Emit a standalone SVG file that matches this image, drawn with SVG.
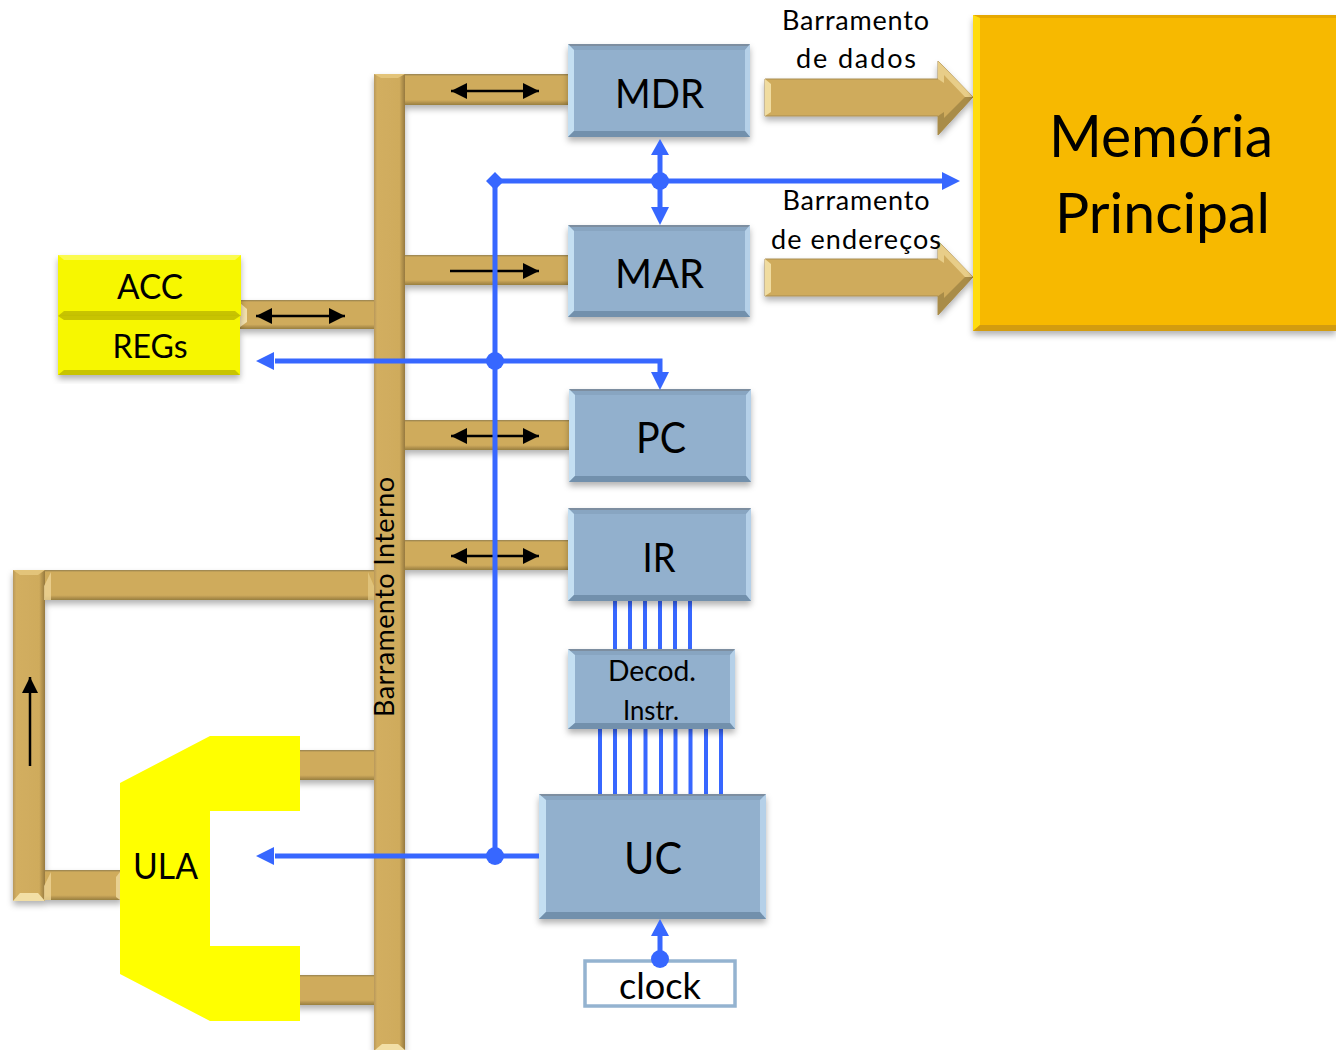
<svg xmlns="http://www.w3.org/2000/svg" width="1336" height="1050" viewBox="0 0 1336 1050">
<style>
text{font-family:"Lato","Open Sans","Liberation Sans",sans-serif;fill:#000;text-anchor:middle}
.hb{fill:url(#gh)}.vb{fill:url(#gv)}
.box{fill:#92b0cd}.bl{fill:#c4dff2}.bt{fill:#88a5c1}.br{fill:#b5d0e8}.bb{fill:#7290ac}.tl{fill:#7d8ea0}
.yb{fill:#f7f700}.yd{fill:#c8c400}.yl{fill:#fbfb50}
.blue{stroke:#3767ff;stroke-width:5;fill:none}
.wire{stroke:#3767ff;stroke-width:4;fill:none}
.dot{fill:#3767ff}
.blk{stroke:#000;stroke-width:2.5;fill:none}
.tip{fill:#000}
.sh{filter:url(#s)}
.lbl{font-size:27px}
</style>
<defs>
<linearGradient id="gh" x1="0" y1="0" x2="0" y2="1"><stop offset="0" stop-color="#94804f"/><stop offset=".07" stop-color="#cfab5c"/><stop offset=".84" stop-color="#cfab5c"/><stop offset=".93" stop-color="#b0904c"/><stop offset="1" stop-color="#98803f"/></linearGradient>
<linearGradient id="gv" x1="0" y1="0" x2="1" y2="0"><stop offset="0" stop-color="#b8985a"/><stop offset=".1" stop-color="#d2ae60"/><stop offset=".82" stop-color="#cfab5c"/><stop offset="1" stop-color="#96793f"/></linearGradient>
<filter id="s" x="-10%" y="-10%" width="120%" height="125%"><feDropShadow dx="0" dy="4" stdDeviation="3" flood-color="#000" flood-opacity=".3"/></filter>
<marker id="bk" viewBox="0 0 16 16" refX="16" refY="8" markerWidth="16" markerHeight="16" markerUnits="userSpaceOnUse" orient="auto-start-reverse"><path class="tip" d="M0 0L16 8L0 16Z"/></marker>
</defs>

<g id="connectors">
<g class="sh">
<rect id="bar-mdr" class="hb" x="400" y="74" width="168" height="31"/>
<rect id="bar-mar" class="hb" x="400" y="255" width="168" height="30"/>
<rect id="bar-acc" class="hb" x="240" y="300" width="136" height="29"/>
<rect id="bar-pc" class="hb" x="400" y="420" width="169" height="30"/>
<rect id="bar-ir" class="hb" x="400" y="540" width="168" height="30"/>
<rect id="bar-ula1" class="hb" x="295" y="750" width="82" height="30"/>
<rect id="bar-ula2" class="hb" x="295" y="975" width="82" height="30"/>
<rect id="bar-top" class="hb" x="42" y="570" width="334" height="30"/>
<rect id="bar-bot" class="hb" x="42" y="870" width="80" height="30"/>
<rect id="bar-left" class="vb" x="13" y="570" width="32" height="331"/>
<rect id="bar-main" class="vb" x="374" y="74" width="31" height="976"/>
</g>
<path d="M44 600V586L51 572V600ZM44 900V886L51 872V900Z" fill="#edd596" opacity=".8"/>
<path d="M374 600V586L368 572V600Z" fill="#e6cc88" opacity=".7"/>
<path d="M116 897V877L120 872V900Z" fill="#e8d090"/>
<path d="M240 303L247 309V322L240 327Z" fill="#f4e2ae"/>
<path d="M13 570H45L38 575H20Z" fill="#e3c47a"/>
<path d="M13 901H45L38 893H20Z" fill="#f2dfa6"/>
<path d="M374 74H405L398 78H381Z" fill="#e3c47a"/>
<path d="M375 1050H405L398 1044H382Z" fill="#f2dfa6"/>

<g class="sh">
<path id="bus-dados" d="M765 79H938V61L973 97L938 135V116H765Z" fill="#cfab5c" stroke="#a98d52" stroke-width="1"/>
<path id="bus-end" d="M765 259H938V241L973 277L938 315V296H765Z" fill="#cfab5c" stroke="#a98d52" stroke-width="1"/>
</g>
<path d="M765 79L771 84V112L765 116Z" fill="#f0dca0"/>
<path d="M765 259L771 264V292L765 296Z" fill="#f0dca0"/>
<path d="M938 61L973 97L965 97L944 75V83L938 79ZM938 241L973 277L965 277L944 255V263L938 259Z" fill="#e8cd88"/>
<path d="M938 135L973 97L965 97L944 118V112L938 116ZM938 315L973 277L965 277L944 298V292L938 296Z" fill="#a98c48"/>

<g id="black-arrows">
<path class="blk" d="M451 91H539" marker-start="url(#bk)" marker-end="url(#bk)"/>
<path class="blk" d="M450 271H539" marker-end="url(#bk)"/>
<path class="blk" d="M256 316H345" marker-start="url(#bk)" marker-end="url(#bk)"/>
<path class="blk" d="M451 436H539" marker-start="url(#bk)" marker-end="url(#bk)"/>
<path class="blk" d="M451 556H539" marker-start="url(#bk)" marker-end="url(#bk)"/>
<path class="blk" d="M30 766V677" marker-end="url(#bk)"/>
</g>

<g id="wires-ir">
<path class="wire" d="M615 601V650M630 601V650M645 601V650M660 601V650M675 601V650M690 601V650"/>
</g>
<g id="wires-uc">
<path class="wire" d="M600 729V795M615 729V795M630 729V795M645.500 729V795M661 729V795M675.500 729V795M690.500 729V795M706 729V795M721 729V795"/>
</g>
</g>

<g id="node-memoria">
<rect class="sh" x="973" y="15" width="363" height="316" fill="#f7b900"/>
<path d="M973 15H1336V18H980Z" fill="#e6a800"/><path d="M973 15L980 18V325L973 331Z" fill="#ffdc10"/><path d="M973 331L980 325H1336V331Z" fill="#d29c10"/>
<text x="1161" y="157" font-size="59" textLength="224" lengthAdjust="spacingAndGlyphs">Memória</text>
<text x="1162.500" y="233" font-size="57" textLength="215" lengthAdjust="spacingAndGlyphs">Principal</text>
</g>

<g id="node-mdr">
<rect class="box sh" x="568" y="44" width="182" height="93"/>
<path class="bt" d="M568 44H750L745 50H574Z"/><path class="tl" d="M568 44H750V46H568Z"/><path class="bl" d="M568 44L574 50V131L568 137Z"/><path class="br" d="M750 44L745 50V131L750 137Z"/><path class="bb" d="M568 137L574 131H745L750 137Z"/>
<text x="659.500" y="108" font-size="41" textLength="89" lengthAdjust="spacingAndGlyphs">MDR</text>
</g>
<g id="node-mar">
<rect class="box sh" x="568" y="225" width="182" height="92"/>
<path class="bt" d="M568 225H750L745 231H574Z"/><path class="tl" d="M568 225H750V227H568Z"/><path class="bl" d="M568 225L574 231V311L568 317Z"/><path class="br" d="M750 225L745 231V311L750 317Z"/><path class="bb" d="M568 317L574 311H745L750 317Z"/>
<text x="659.500" y="288" font-size="41" textLength="89" lengthAdjust="spacingAndGlyphs">MAR</text>
</g>
<g id="node-pc">
<rect class="box sh" x="569" y="389" width="182" height="93"/>
<path class="bt" d="M569 389H751L746 395H575Z"/><path class="tl" d="M569 389H751V391H569Z"/><path class="bl" d="M569 389L575 395V476L569 482Z"/><path class="br" d="M751 389L746 395V476L751 482Z"/><path class="bb" d="M569 482L575 476H746L751 482Z"/>
<text x="661" y="453" font-size="42" textLength="50" lengthAdjust="spacingAndGlyphs">PC</text>
</g>
<g id="node-ir">
<rect class="box sh" x="568" y="508" width="183" height="93"/>
<path class="bt" d="M568 508H751L746 514H574Z"/><path class="tl" d="M568 508H751V510H568Z"/><path class="bl" d="M568 508L574 514V595L568 601Z"/><path class="br" d="M751 508L746 514V595L751 601Z"/><path class="bb" d="M568 601L574 595H746L751 601Z"/>
<text x="659" y="572" font-size="41" textLength="33" lengthAdjust="spacingAndGlyphs">IR</text>
</g>
<g id="node-decod">
<rect class="box sh" x="568" y="649" width="167" height="80"/>
<path class="bt" d="M568 649H735L730 655H574Z"/><path class="tl" d="M568 649H735V651H568Z"/><path class="bl" d="M568 649L575 655V723L568 729Z"/><path class="br" d="M735 649L730 655V723L735 729Z"/><path class="bb" d="M568 729L575 723H730L735 729Z"/>
<text x="652" y="681" font-size="28" textLength="88" lengthAdjust="spacingAndGlyphs">Decod.</text>
<text x="651" y="720" font-size="27" textLength="56" lengthAdjust="spacingAndGlyphs">Instr.</text>
</g>
<g id="node-uc">
<rect class="box sh" x="539" y="794" width="227" height="125"/>
<path class="bt" d="M539 794H766L760 800H546Z"/><path class="tl" d="M539 794H766V796H539Z"/><path class="bl" d="M539 794L546 800V912L539 919Z"/><path class="br" d="M766 794L760 800V912L766 919Z"/><path class="bb" d="M539 919L546 912H760L766 919Z"/>
<text x="653" y="874" font-size="45" textLength="58" lengthAdjust="spacingAndGlyphs">UC</text>
</g>
<g id="node-clock">
<rect x="585" y="961" width="150" height="45" fill="#fff" stroke="#94b3d0" stroke-width="3.500"/>
<text x="660" y="999" font-size="37" textLength="82" lengthAdjust="spacingAndGlyphs">clock</text>
</g>

<g id="node-acc">
<rect class="yb sh" x="58" y="255" width="183" height="61"/>
<path class="yl" d="M58 255H241L235 260H64Z"/><path class="yd" d="M58 316L64 311H235L241 316Z"/>
<text x="150" y="299" font-size="35" textLength="66" lengthAdjust="spacingAndGlyphs">ACC</text>
</g>
<g id="node-regs">
<rect class="yb sh" x="58" y="316" width="182" height="59"/>
<path class="yd" d="M58 316H240L234 320H64Z"/><path class="yd" d="M58 375L64 370H235L240 375Z"/>
<text x="150" y="358" font-size="32" textLength="75" lengthAdjust="spacingAndGlyphs">REGs</text>
</g>
<g id="node-ula">
<path d="M120 783L210 736H300V811H210V946H300V1021H210L120 974Z" fill="#ff0"/>
<text x="165.500" y="879" font-size="37" textLength="65" lengthAdjust="spacingAndGlyphs">ULA</text>
</g>

<g id="control-lines">
<path class="blue" d="M495 181V856M495 181H945M660 155V208M275 361H660V374M275 856H539M660 936V959"/>
<path class="dot" d="M960 181L942 172V190ZM660 139L651 155H669ZM660 225L651 207H669ZM660 390L651 372H669ZM256 361L274 352V370ZM256 856L274 847V865ZM660 919L651 936H669ZM486 181L495 172L504 181L495 190Z"/>
<circle class="dot" cx="660" cy="181" r="9"/><circle class="dot" cx="495" cy="361" r="9"/><circle class="dot" cx="495" cy="856" r="9"/><circle class="dot" cx="660" cy="959" r="9"/>
</g>

<g id="labels">
<text class="lbl" x="855.500" y="30" textLength="147">Barramento</text>
<text class="lbl" x="856" y="68" textLength="120">de dados</text>
<text class="lbl" x="856" y="210" textLength="147">Barramento</text>
<text class="lbl" x="856" y="249" textLength="170">de endereços</text>
<text x="394" y="597" font-size="27" transform="rotate(-90 394 597)" textLength="240">Barramento Interno</text>
</g>
</svg>
